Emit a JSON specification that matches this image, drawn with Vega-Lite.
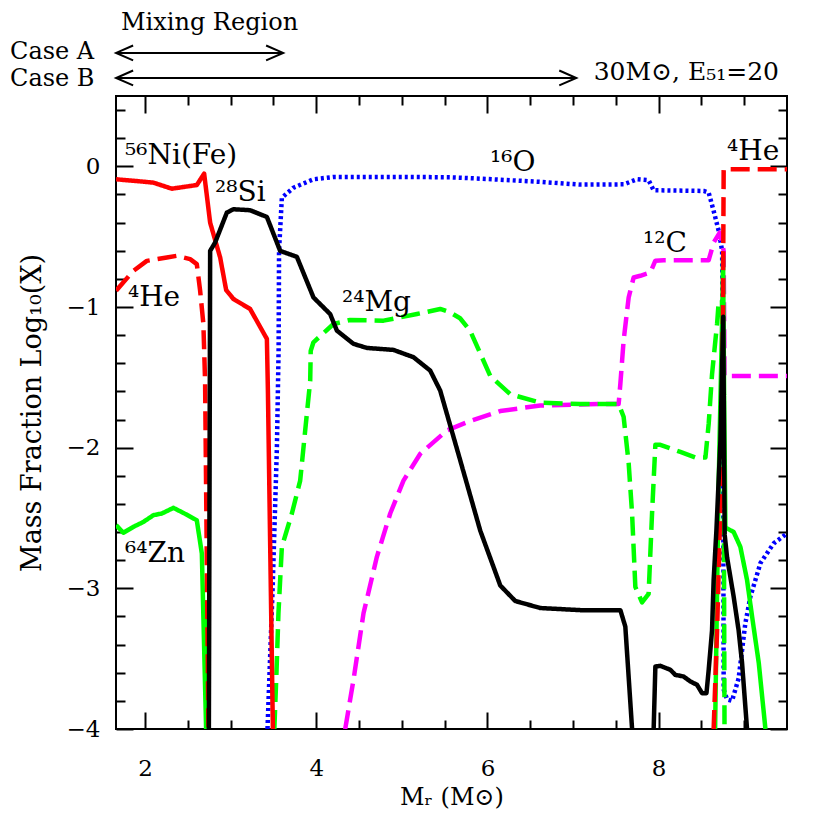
{
  "$schema": "https://vega.github.io/schema/vega-lite/v6.json",
  "width": 671,
  "height": 633,
  "autosize": {"type": "none"},
  "padding": {"left": 116, "top": 96, "right": 43, "bottom": 101},
  "background": "white",
  "config": {"view": {"stroke": "black", "strokeWidth": 2}, "font": "DejaVu Serif"},
  "resolve": {"axis": {"x": "independent", "y": "independent"}},
  "datasets": {
    "curves": [
      {"s":"O","g":"O","x":3.43,"y":-4},{"s":"O","g":"O","x":3.49,"y":-3.0},{"s":"O","g":"O","x":3.54,"y":-2.0},{"s":"O","g":"O","x":3.56,"y":-1.3},{"s":"O","g":"O","x":3.565,"y":-0.601},{"s":"O","g":"O","x":3.598,"y":-0.223},{"s":"O","g":"O","x":3.733,"y":-0.152},{"s":"O","g":"O","x":3.967,"y":-0.092},{"s":"O","g":"O","x":4.201,"y":-0.076},{"s":"O","g":"O","x":5.0,"y":-0.075},{"s":"O","g":"O","x":5.565,"y":-0.078},{"s":"O","g":"O","x":6.0,"y":-0.09},{"s":"O","g":"O","x":6.6,"y":-0.11},{"s":"O","g":"O","x":7.085,"y":-0.13},{"s":"O","g":"O","x":7.591,"y":-0.128},{"s":"O","g":"O","x":7.748,"y":-0.092},{"s":"O","g":"O","x":7.883,"y":-0.099},{"s":"O","g":"O","x":7.942,"y":-0.17},{"s":"O","g":"O","x":8.527,"y":-0.175},{"s":"O","g":"O","x":8.585,"y":-0.187},{"s":"O","g":"O","x":8.643,"y":-0.317},{"s":"O","g":"O","x":8.702,"y":-0.459},{"s":"O","g":"O","x":8.722,"y":-0.53},{"s":"O","g":"O","x":8.742,"y":-0.601},{"s":"O","g":"O","x":8.752,"y":-1.5},{"s":"O","g":"O","x":8.76,"y":-3.72},{"s":"O","g":"O","x":8.8,"y":-3.79},{"s":"O","g":"O","x":8.858,"y":-3.8},{"s":"O","g":"O","x":8.935,"y":-3.64},{"s":"O","g":"O","x":9.013,"y":-3.25},{"s":"O","g":"O","x":9.072,"y":-3.06},{"s":"O","g":"O","x":9.19,"y":-2.82},{"s":"O","g":"O","x":9.345,"y":-2.68},{"s":"O","g":"O","x":9.5,"y":-2.61},
      {"s":"C","g":"C","x":4.338,"y":-4},{"s":"C","g":"C","x":4.435,"y":-3.65},{"s":"C","g":"C","x":4.552,"y":-3.177},{"s":"C","g":"C","x":4.708,"y":-2.776},{"s":"C","g":"C","x":4.864,"y":-2.468},{"s":"C","g":"C","x":5.019,"y":-2.234},{"s":"C","g":"C","x":5.215,"y":-2.043},{"s":"C","g":"C","x":5.527,"y":-1.877},{"s":"C","g":"C","x":5.799,"y":-1.81},{"s":"C","g":"C","x":6.15,"y":-1.74},{"s":"C","g":"C","x":6.617,"y":-1.7},{"s":"C","g":"C","x":7.319,"y":-1.69},{"s":"C","g":"C","x":7.533,"y":-1.69},{"s":"C","g":"C","x":7.553,"y":-1.546},{"s":"C","g":"C","x":7.591,"y":-1.239},{"s":"C","g":"C","x":7.65,"y":-0.932},{"s":"C","g":"C","x":7.708,"y":-0.79},{"s":"C","g":"C","x":7.786,"y":-0.778},{"s":"C","g":"C","x":7.903,"y":-0.755},{"s":"C","g":"C","x":7.962,"y":-0.671},{"s":"C","g":"C","x":8.059,"y":-0.667},{"s":"C","g":"C","x":8.585,"y":-0.667},{"s":"C","g":"C","x":8.643,"y":-0.542},{"s":"C","g":"C","x":8.714,"y":-0.471},{"s":"C","g":"C","x":8.76,"y":-0.601},{"s":"C","g":"C","x":8.77,"y":-1.49},{"s":"C","g":"C","x":9.5,"y":-1.49},
      {"s":"Mg","g":"Mg","x":3.51,"y":-4},{"s":"Mg","g":"Mg","x":3.535,"y":-3.6},{"s":"Mg","g":"Mg","x":3.558,"y":-3.177},{"s":"Mg","g":"Mg","x":3.598,"y":-2.705},{"s":"Mg","g":"Mg","x":3.715,"y":-2.468},{"s":"Mg","g":"Mg","x":3.812,"y":-2.234},{"s":"Mg","g":"Mg","x":3.89,"y":-1.759},{"s":"Mg","g":"Mg","x":3.929,"y":-1.525},{"s":"Mg","g":"Mg","x":3.935,"y":-1.312},{"s":"Mg","g":"Mg","x":3.967,"y":-1.251},{"s":"Mg","g":"Mg","x":4.201,"y":-1.121},{"s":"Mg","g":"Mg","x":4.396,"y":-1.092},{"s":"Mg","g":"Mg","x":4.786,"y":-1.097},{"s":"Mg","g":"Mg","x":5.176,"y":-1.05},{"s":"Mg","g":"Mg","x":5.448,"y":-1.014},{"s":"Mg","g":"Mg","x":5.565,"y":-1.038},{"s":"Mg","g":"Mg","x":5.68,"y":-1.08},{"s":"Mg","g":"Mg","x":5.799,"y":-1.17},{"s":"Mg","g":"Mg","x":6.033,"y":-1.49},{"s":"Mg","g":"Mg","x":6.267,"y":-1.62},{"s":"Mg","g":"Mg","x":6.617,"y":-1.68},{"s":"Mg","g":"Mg","x":7.085,"y":-1.69},{"s":"Mg","g":"Mg","x":7.533,"y":-1.69},{"s":"Mg","g":"Mg","x":7.591,"y":-1.78},{"s":"Mg","g":"Mg","x":7.65,"y":-2.11},{"s":"Mg","g":"Mg","x":7.69,"y":-2.47},{"s":"Mg","g":"Mg","x":7.728,"y":-2.99},{"s":"Mg","g":"Mg","x":7.806,"y":-3.1},{"s":"Mg","g":"Mg","x":7.883,"y":-3.04},{"s":"Mg","g":"Mg","x":7.923,"y":-2.47},{"s":"Mg","g":"Mg","x":7.962,"y":-1.98},{"s":"Mg","g":"Mg","x":8.02,"y":-1.98},{"s":"Mg","g":"Mg","x":8.254,"y":-2.03},{"s":"Mg","g":"Mg","x":8.429,"y":-2.07},{"s":"Mg","g":"Mg","x":8.547,"y":-2.07},{"s":"Mg","g":"Mg","x":8.585,"y":-1.83},{"s":"Mg","g":"Mg","x":8.624,"y":-1.48},{"s":"Mg","g":"Mg","x":8.663,"y":-1.24},{"s":"Mg","g":"Mg","x":8.683,"y":-1.12},{"s":"Mg","g":"Mg","x":8.7,"y":-0.98},{"s":"Mg","g":"Mg","x":8.74,"y":-0.95},{"s":"Mg","g":"Mg","x":8.76,"y":-2.0},{"s":"Mg","g":"Mg","x":8.77,"y":-4},
      {"s":"Zn","g":"Zn1","x":1.661,"y":-2.551},{"s":"Zn","g":"Zn1","x":1.746,"y":-2.605},{"s":"Zn","g":"Zn1","x":1.863,"y":-2.563},{"s":"Zn","g":"Zn1","x":1.98,"y":-2.528},{"s":"Zn","g":"Zn1","x":2.097,"y":-2.48},{"s":"Zn","g":"Zn1","x":2.195,"y":-2.468},{"s":"Zn","g":"Zn1","x":2.331,"y":-2.428},{"s":"Zn","g":"Zn1","x":2.448,"y":-2.464},{"s":"Zn","g":"Zn1","x":2.604,"y":-2.516},{"s":"Zn","g":"Zn1","x":2.663,"y":-2.752},{"s":"Zn","g":"Zn1","x":2.721,"y":-3.083},{"s":"Zn","g":"Zn1","x":2.713,"y":-4},
      {"s":"Zn","g":"Zn2","x":8.66,"y":-4},{"s":"Zn","g":"Zn2","x":8.7,"y":-2.3},{"s":"Zn","g":"Zn2","x":8.745,"y":-1.0},{"s":"Zn","g":"Zn2","x":8.753,"y":-0.64},{"s":"Zn","g":"Zn2","x":8.765,"y":-1.6},{"s":"Zn","g":"Zn2","x":8.78,"y":-2.57},{"s":"Zn","g":"Zn2","x":8.8,"y":-2.574},{"s":"Zn","g":"Zn2","x":8.877,"y":-2.6},{"s":"Zn","g":"Zn2","x":8.955,"y":-2.705},{"s":"Zn","g":"Zn2","x":9.033,"y":-2.94},{"s":"Zn","g":"Zn2","x":9.092,"y":-3.2},{"s":"Zn","g":"Zn2","x":9.17,"y":-3.53},{"s":"Zn","g":"Zn2","x":9.248,"y":-4},
      {"s":"He","g":"He1","x":1.661,"y":-0.884},{"s":"He","g":"He1","x":1.863,"y":-0.743},{"s":"He","g":"He1","x":2.02,"y":-0.672},{"s":"He","g":"He1","x":2.254,"y":-0.648},{"s":"He","g":"He1","x":2.371,"y":-0.636},{"s":"He","g":"He1","x":2.526,"y":-0.66},{"s":"He","g":"He1","x":2.604,"y":-0.695},{"s":"He","g":"He1","x":2.643,"y":-0.884},{"s":"He","g":"He1","x":2.681,"y":-1.121},{"s":"He","g":"He1","x":2.701,"y":-1.53},{"s":"He","g":"He1","x":2.74,"y":-4},
      {"s":"He","g":"He2","x":8.643,"y":-4},{"s":"He","g":"He2","x":8.683,"y":-3.3},{"s":"He","g":"He2","x":8.714,"y":-2.59},{"s":"He","g":"He2","x":8.742,"y":-1.95},{"s":"He","g":"He2","x":8.752,"y":-1.0},{"s":"He","g":"He2","x":8.76,"y":-0.02},{"s":"He","g":"He2","x":8.8,"y":-0.02},{"s":"He","g":"He2","x":9.5,"y":-0.02},
      {"s":"Ni","g":"Ni","x":1.661,"y":-0.092},{"s":"Ni","g":"Ni","x":1.98,"y":-0.109},{"s":"Ni","g":"Ni","x":2.097,"y":-0.116},{"s":"Ni","g":"Ni","x":2.312,"y":-0.159},{"s":"Ni","g":"Ni","x":2.604,"y":-0.133},{"s":"Ni","g":"Ni","x":2.69,"y":-0.052},{"s":"Ni","g":"Ni","x":2.76,"y":-0.4},{"s":"Ni","g":"Ni","x":2.877,"y":-0.648},{"s":"Ni","g":"Ni","x":2.947,"y":-0.879},{"s":"Ni","g":"Ni","x":3.032,"y":-0.943},{"s":"Ni","g":"Ni","x":3.227,"y":-1.014},{"s":"Ni","g":"Ni","x":3.423,"y":-1.227},{"s":"Ni","g":"Ni","x":3.435,"y":-1.6},{"s":"Ni","g":"Ni","x":3.493,"y":-4},
      {"s":"Si","g":"Si1","x":2.745,"y":-4},{"s":"Si","g":"Si1","x":2.752,"y":-2.5},{"s":"Si","g":"Si1","x":2.76,"y":-0.601},{"s":"Si","g":"Si1","x":2.818,"y":-0.542},{"s":"Si","g":"Si1","x":2.955,"y":-0.329},{"s":"Si","g":"Si1","x":3.032,"y":-0.305},{"s":"Si","g":"Si1","x":3.227,"y":-0.312},{"s":"Si","g":"Si1","x":3.423,"y":-0.36},{"s":"Si","g":"Si1","x":3.578,"y":-0.601},{"s":"Si","g":"Si1","x":3.773,"y":-0.643},{"s":"Si","g":"Si1","x":3.967,"y":-0.932},{"s":"Si","g":"Si1","x":4.162,"y":-1.05},{"s":"Si","g":"Si1","x":4.241,"y":-1.168},{"s":"Si","g":"Si1","x":4.435,"y":-1.262},{"s":"Si","g":"Si1","x":4.592,"y":-1.291},{"s":"Si","g":"Si1","x":4.902,"y":-1.305},{"s":"Si","g":"Si1","x":5.136,"y":-1.357},{"s":"Si","g":"Si1","x":5.331,"y":-1.452},{"s":"Si","g":"Si1","x":5.448,"y":-1.594},{"s":"Si","g":"Si1","x":5.682,"y":-2.09},{"s":"Si","g":"Si1","x":5.916,"y":-2.59},{"s":"Si","g":"Si1","x":6.15,"y":-2.98},{"s":"Si","g":"Si1","x":6.325,"y":-3.09},{"s":"Si","g":"Si1","x":6.617,"y":-3.14},{"s":"Si","g":"Si1","x":7.085,"y":-3.155},{"s":"Si","g":"Si1","x":7.553,"y":-3.155},{"s":"Si","g":"Si1","x":7.611,"y":-3.272},{"s":"Si","g":"Si1","x":7.69,"y":-4},
      {"s":"Si","g":"Si2","x":7.942,"y":-4},{"s":"Si","g":"Si2","x":7.962,"y":-3.556},{"s":"Si","g":"Si2","x":8.02,"y":-3.551},{"s":"Si","g":"Si2","x":8.137,"y":-3.579},{"s":"Si","g":"Si2","x":8.195,"y":-3.615},{"s":"Si","g":"Si2","x":8.292,"y":-3.627},{"s":"Si","g":"Si2","x":8.371,"y":-3.662},{"s":"Si","g":"Si2","x":8.449,"y":-3.686},{"s":"Si","g":"Si2","x":8.507,"y":-3.745},{"s":"Si","g":"Si2","x":8.559,"y":-3.745},{"s":"Si","g":"Si2","x":8.585,"y":-3.58},{"s":"Si","g":"Si2","x":8.624,"y":-3.3},{"s":"Si","g":"Si2","x":8.643,"y":-2.94},{"s":"Si","g":"Si2","x":8.675,"y":-2.59},{"s":"Si","g":"Si2","x":8.722,"y":-1.95},{"s":"Si","g":"Si2","x":8.755,"y":-1.07},{"s":"Si","g":"Si2","x":8.765,"y":-2.0},{"s":"Si","g":"Si2","x":8.772,"y":-2.62},{"s":"Si","g":"Si2","x":8.8,"y":-2.78},{"s":"Si","g":"Si2","x":8.877,"y":-3.06},{"s":"Si","g":"Si2","x":8.935,"y":-3.3},{"s":"Si","g":"Si2","x":8.975,"y":-3.53},{"s":"Si","g":"Si2","x":9.033,"y":-4}
    ],
    "labels": [
      {"t":"⁵⁶Ni(Fe)","x":1.765,"y":0.017},
      {"t":"²⁸Si","x":2.817,"y":-0.246},
      {"t":"⁴He","x":1.8,"y":-0.993},
      {"t":"²⁴Mg","x":4.3,"y":-1.03},
      {"t":"¹⁶O","x":6.03,"y":-0.033},
      {"t":"¹²C","x":7.817,"y":-0.607},
      {"t":"⁴He","x":8.799,"y":0.045},
      {"t":"⁶⁴Zn","x":1.765,"y":-2.81}
    ],
    "notes": [
      {"t":"Mixing Region","x":1.718,"y":1.019},
      {"t":"Case A","x":0.422,"y":0.813},
      {"t":"Case B","x":0.422,"y":0.621}
    ],
    "note2": [
      {"t":"30M⊙, E₅₁=20","x":9.406,"y":0.671}
    ],
    "arrows": [
      {"g":"A0","i":0,"x":1.661,"y":0.806},{"g":"A0","i":1,"x":3.613,"y":0.806},
      {"g":"A1","i":0,"x":1.86,"y":0.859},{"g":"A1","i":1,"x":1.661,"y":0.806},{"g":"A1","i":2,"x":1.86,"y":0.753},
      {"g":"A2","i":0,"x":3.414,"y":0.859},{"g":"A2","i":1,"x":3.613,"y":0.806},{"g":"A2","i":2,"x":3.414,"y":0.753},
      {"g":"B0","i":0,"x":1.661,"y":0.628},{"g":"B0","i":1,"x":7.038,"y":0.628},
      {"g":"B1","i":0,"x":1.86,"y":0.681},{"g":"B1","i":1,"x":1.661,"y":0.628},{"g":"B1","i":2,"x":1.86,"y":0.575},
      {"g":"B2","i":0,"x":6.839,"y":0.681},{"g":"B2","i":1,"x":7.038,"y":0.628},{"g":"B2","i":2,"x":6.839,"y":0.575}
    ]
  },
  "layer": [
    {
      "data": {"name": "curves"},
      "mark": {"type": "line", "clip": true, "strokeJoin": "round"},
      "encoding": {
        "x": {"field": "x", "type": "quantitative", "scale": {"domain": [1.66, 9.5], "nice": false, "zero": false},
          "axis": {"orient": "bottom", "values": [2, 4, 6, 8], "ticks": false, "tickSize": 0, "domain": false, "grid": false, "labelFont": "DejaVu Serif", "labelFontSize": 23, "labelColor": "black", "labelPadding": 28, "labelFlush": false,
            "title": "Mᵣ (M⊙)", "titleFont": "DejaVu Serif", "titleFontSize": 24, "titleFontWeight": "normal", "titleColor": "black", "titlePadding": 5}},
        "y": {"field": "y", "type": "quantitative", "scale": {"domain": [-4, 0.5], "nice": false, "zero": false},
          "axis": {"orient": "left", "values": [-4, -3, -2, -1, 0], "ticks": false, "tickSize": 0, "domain": false, "grid": false, "labelFont": "DejaVu Serif", "labelFontSize": 23, "labelColor": "black", "labelPadding": 16, "labelFlush": false,
            "title": "Mass Fraction Log₁₀(X)", "titleFont": "DejaVu Serif", "titleFontSize": 27, "titleFontWeight": "normal", "titleColor": "black", "titlePadding": 20}},
        "detail": {"field": "g", "type": "nominal"},
        "color": {"field": "s", "type": "nominal", "legend": null,
          "scale": {"domain": ["O", "C", "Mg", "Zn", "He", "Ni", "Si"], "range": ["#0000ff", "#ff00ff", "#00ff00", "#00ff00", "#ff0000", "#ff0000", "#000000"]}},
        "strokeDash": {"field": "s", "type": "nominal", "legend": null,
          "scale": {"domain": ["O", "C", "Mg", "Zn", "He", "Ni", "Si"], "range": [[3, 3], [19, 8], [19, 8], [1, 0], [19, 8], [1, 0], [1, 0]]}},
        "strokeWidth": {"field": "s", "type": "nominal", "legend": null,
          "scale": {"domain": ["O", "C", "Mg", "Zn", "He", "Ni", "Si"], "range": [4.5, 4.5, 4.5, 3.5, 4.5, 4, 5]}}
      }
    },
    {
      "data": {"name": "labels"},
      "mark": {"type": "text", "align": "left", "baseline": "alphabetic", "font": "DejaVu Serif", "fontSize": 28, "color": "black", "clip": false},
      "encoding": {
        "x": {"field": "x", "type": "quantitative", "axis": {"orient": "bottom", "values": [2, 4, 6, 8], "labels": false, "domain": false, "grid": false, "tickSize": -17, "tickWidth": 2, "tickColor": "black", "title": null}},
        "y": {"field": "y", "type": "quantitative", "axis": {"orient": "left", "values": [-4, -3, -2, -1, 0], "labels": false, "domain": false, "grid": false, "tickSize": -17, "tickWidth": 2, "tickColor": "black", "title": null}},
        "text": {"field": "t", "type": "nominal"}
      }
    },
    {
      "data": {"name": "notes"},
      "mark": {"type": "text", "align": "left", "baseline": "middle", "font": "DejaVu Serif", "fontSize": 24, "color": "black", "clip": false},
      "encoding": {
        "x": {"field": "x", "type": "quantitative", "axis": {"orient": "bottom", "values": [2.5, 3, 3.5, 4.5, 5, 5.5, 6.5, 7, 7.5, 8.5, 9], "labels": false, "domain": false, "grid": false, "tickSize": -9, "tickWidth": 2, "tickColor": "black", "title": null}},
        "y": {"field": "y", "type": "quantitative", "axis": {"orient": "left", "values": [-3.8, -3.6, -3.4, -3.2, -2.8, -2.6, -2.4, -2.2, -1.8, -1.6, -1.4, -1.2, -0.8, -0.6, -0.4, -0.2, 0.2, 0.4], "labels": false, "domain": false, "grid": false, "tickSize": -9, "tickWidth": 2, "tickColor": "black", "title": null}},
        "text": {"field": "t", "type": "nominal"}
      }
    },
    {
      "data": {"name": "note2"},
      "mark": {"type": "text", "align": "right", "baseline": "middle", "font": "DejaVu Serif", "fontSize": 25, "color": "black", "clip": false},
      "encoding": {
        "x": {"field": "x", "type": "quantitative", "axis": {"orient": "top", "values": [2, 4, 6, 8], "labels": false, "domain": false, "grid": false, "tickSize": -17, "tickWidth": 2, "tickColor": "black", "title": null}},
        "y": {"field": "y", "type": "quantitative", "axis": {"orient": "right", "values": [-4, -3, -2, -1, 0], "labels": false, "domain": false, "grid": false, "tickSize": -17, "tickWidth": 2, "tickColor": "black", "title": null}},
        "text": {"field": "t", "type": "nominal"}
      }
    },
    {
      "data": {"name": "arrows"},
      "mark": {"type": "line", "color": "black", "strokeWidth": 2, "clip": false},
      "encoding": {
        "x": {"field": "x", "type": "quantitative", "axis": {"orient": "top", "values": [2.5, 3, 3.5, 4.5, 5, 5.5, 6.5, 7, 7.5, 8.5, 9], "labels": false, "domain": false, "grid": false, "tickSize": -9, "tickWidth": 2, "tickColor": "black", "title": null}},
        "y": {"field": "y", "type": "quantitative", "axis": {"orient": "right", "values": [-3.8, -3.6, -3.4, -3.2, -2.8, -2.6, -2.4, -2.2, -1.8, -1.6, -1.4, -1.2, -0.8, -0.6, -0.4, -0.2, 0.2, 0.4], "labels": false, "domain": false, "grid": false, "tickSize": -9, "tickWidth": 2, "tickColor": "black", "title": null}},
        "detail": {"field": "g", "type": "nominal"},
        "order": {"field": "i", "type": "quantitative"}
      }
    }
  ]
}
